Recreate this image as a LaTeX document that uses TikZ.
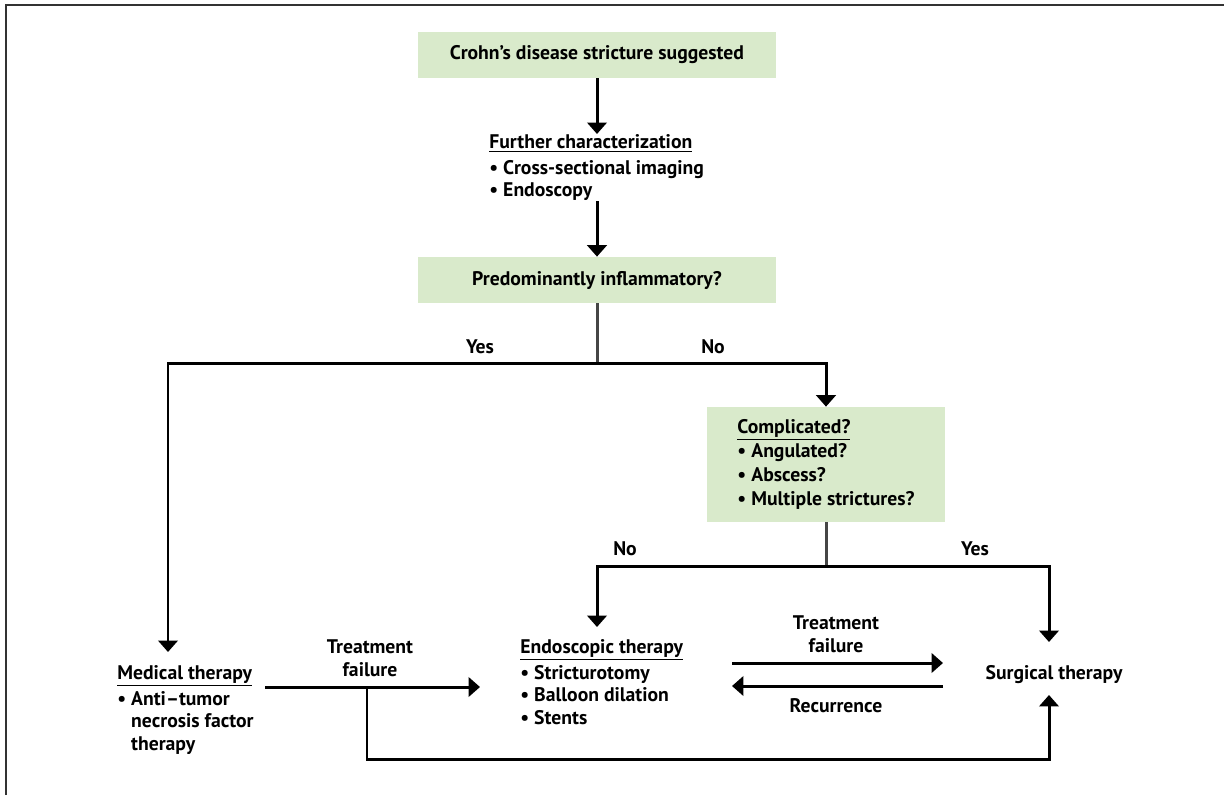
\documentclass[tikz,border=0pt]{standalone}
\usepackage{fontspec}
\setmainfont{PT Sans}
\usetikzlibrary{arrows.meta}
\definecolor{boxgreen}{RGB}{217,234,203}
\definecolor{stemgray}{RGB}{70,70,70}
\definecolor{framegray}{RGB}{50,50,50}
\tikzset{
  every node/.style={font=\bfseries\fontsize{11.2}{12.8}\selectfont, inner sep=0pt},
  greenbox/.style={fill=boxgreen, minimum width=7.16cm, minimum height=0.92cm, align=center},
  listtext/.style={align=left},
  arr/.style={line width=1.7pt, -{Triangle[width=11pt,length=6.5pt]}},
  link/.style={line width=1.7pt},
  stem/.style={line width=1.7pt, draw=stemgray}
}
\begin{document}
\begin{tikzpicture}[x=0.02cm,y=-0.02cm]
\useasboundingbox (0,0) rectangle (1224,795);
\draw[framegray, line width=1.4pt] (6,795) -- (6,5) -- (1224,5); % outer frame
% top of the chart
\node[greenbox] (start) at (597,55) {Crohn’s disease stricture suggested};
\node[listtext, anchor=north west] (char) at (489,134) {\underline{Further characterization}\\[2pt] • Cross-sectional imaging\\ • Endoscopy};
\draw[arr] (start.south) -- (start.south |- char.north);
\node[greenbox] (inflam) at (597,280) {Predominantly inflammatory?};
\coordinate (below) at (597,201);
\draw[arr] (below) -- (inflam.north);
% first split
\coordinate (split1) at (597,363);
\coordinate (medtop) at (168,652);
\draw[stem] (inflam.south) -- (split1);
\node[greenbox, minimum width=4.76cm, minimum height=2.3cm, align=left, font=\bfseries\fontsize{11.2}{13.8}\selectfont] (compl) at (826,464.5) {\underline{Complicated?}\\ • Angulated?\\ • Abscess?\\ • Multiple strictures?};
\draw[arr] (split1) -| (medtop);
\draw[arr] (split1) -| (compl.north);
\node (yes1) at (480,347) {Yes};
\node (no1) at (713,347) {No};
% second split
\coordinate (split2) at (826,566);
\coordinate (endotop) at (597,627);
\coordinate (surgtop) at (1049,642);
\draw[stem] (compl.south) -- (split2);
\draw[arr] (split2) -| (endotop);
\draw[arr] (split2) -| (surgtop);
\node (no2) at (625,549) {No};
\node (yes2) at (975,549) {Yes};
% bottom row
\node[listtext, anchor=north west] (med) at (117,665) {\underline{Medical therapy}\\[2pt] • Anti–tumor\\ \phantom{• }necrosis factor\\ \phantom{• }therapy};
\node[listtext, anchor=north west] (endo) at (520,639) {\underline{Endoscopic therapy}\\[2pt] • Stricturotomy\\ • Balloon dilation\\ • Stents};
\node (surg) at (1054,675) {Surgical therapy};
\coordinate (tfstart) at (265,687);
\coordinate (tfend) at (480,687);
\coordinate (tfsplit) at (367,687);
\coordinate (surgbot) at (1049,695);
\draw[arr] (tfstart) -- (tfend);
\draw[arr] (tfsplit) |- (1049,759) -- (surgbot);
\node[align=center] (tf1) at (370,658) {Treatment\\failure};
\coordinate (fwdA) at (732,663);
\coordinate (fwdB) at (943,663);
\coordinate (backA) at (943,686);
\coordinate (backB) at (732,686);
\draw[arr] (fwdA) -- (fwdB);
\draw[arr] (backA) -- (backB);
\node[align=center] (tf2) at (836,634) {Treatment\\failure};
\node (recur) at (836,706) {Recurrence};
\end{tikzpicture}
\end{document}
